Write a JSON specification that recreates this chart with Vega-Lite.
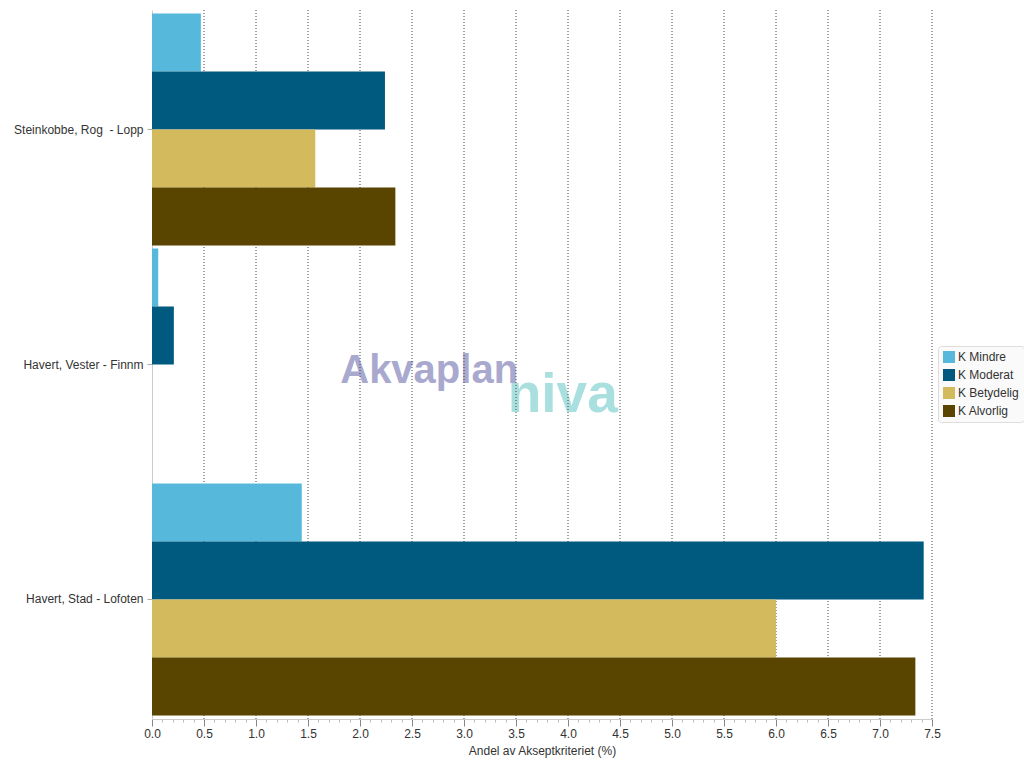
{
  "$schema": "https://vega.github.io/schema/vega-lite/v6.json",
  "width": 780,
  "height": 709,
  "autosize": {"type": "none"},
  "padding": {"left": 152, "top": 10, "right": 92, "bottom": 49},
  "background": "white",
  "config": {
    "view": {"stroke": null},
    "font": "Liberation Sans",
    "axis": {"labelFont": "Liberation Sans", "titleFont": "Liberation Sans"}
  },
  "layer": [
    {
      "data": {"values": [{"t": "Akvaplan"}]},
      "mark": {"type": "text", "align": "left", "baseline": "alphabetic", "dy": 18, "font": "Liberation Sans", "fontWeight": "bold", "fontSize": 40, "color": "#A9A8CF"},
      "encoding": {
        "x": {"datum": 1.81, "type": "quantitative", "scale": {"domain": [0, 7.5], "nice": false, "zero": true},
          "axis": {
            "title": "Andel av Akseptkriteriet (%)",
            "titleFontWeight": "normal", "titleFontSize": 12, "titleColor": "#333333", "titlePadding": 6,
            "grid": false,
            "tickCount": 100,
            "values": [0,0.1,0.2,0.3,0.4,0.5,0.6,0.7,0.8,0.9,1,1.1,1.2,1.3,1.4,1.5,1.6,1.7,1.8,1.9,2,2.1,2.2,2.3,2.4,2.5,2.6,2.7,2.8,2.9,3,3.1,3.2,3.3,3.4,3.5,3.6,3.7,3.8,3.9,4,4.1,4.2,4.3,4.4,4.5,4.6,4.7,4.8,4.9,5,5.1,5.2,5.3,5.4,5.5,5.6,5.7,5.8,5.9,6,6.1,6.2,6.3,6.4,6.5,6.6,6.7,6.8,6.9,7,7.1,7.2,7.3,7.4,7.5],
            "labelExpr": "abs(datum.value*2 - round(datum.value*2)) < 0.001 ? format(datum.value, '.1f') : ''",
            "labelOverlap": false,
            "labelFlush": false,
            "labelFontSize": 12, "labelColor": "#333333", "labelPadding": 2,
            "domainColor": "#cccccc",
            "tickSize": {"condition": {"test": "abs(datum.value*2 - round(datum.value*2)) < 0.001", "value": 7}, "value": 3},
            "tickColor": {"condition": {"test": "abs(datum.value*2 - round(datum.value*2)) < 0.001", "value": "#888888"}, "value": "#bbbbbb"}
          }
        },
        "y": {"datum": "Havert, Vester - Finnm", "type": "nominal",
          "scale": {"domain": ["Steinkobbe, Rog  - Lopp", "Havert, Vester - Finnm", "Havert, Stad - Lofoten"], "paddingInner": 0.0128, "paddingOuter": 0.015},
          "axis": {"title": null, "domainColor": "#cccccc", "tickColor": "#aaaaaa", "tickSize": 5, "labelFontSize": 12, "labelColor": "#333333", "labelPadding": 4, "grid": false, "labelExpr": "replace(datum.label, '  ', '\u00a0 ')"}
        },
        "text": {"field": "t", "type": "nominal"}
      }
    },
    {
      "data": {"values": [{"t": "niva"}]},
      "mark": {"type": "text", "align": "left", "baseline": "alphabetic", "dy": 47, "font": "Liberation Sans", "fontWeight": "bold", "fontSize": 55, "color": "#AADFDF"},
      "encoding": {
        "x": {"datum": 3.42, "type": "quantitative"},
        "y": {"datum": "Havert, Vester - Finnm", "type": "nominal"},
        "text": {"field": "t", "type": "nominal"}
      }
    },
    {
      "data": {"values": [{"g": 0.5}, {"g": 1.0}, {"g": 1.5}, {"g": 2.0}, {"g": 2.5}, {"g": 3.0}, {"g": 3.5}, {"g": 4.0}, {"g": 4.5}, {"g": 5.0}, {"g": 5.5}, {"g": 6.0}, {"g": 6.5}, {"g": 7.0}, {"g": 7.5}]},
      "mark": {"type": "rule", "strokeDash": [1, 2], "color": "#444", "strokeWidth": 1},
      "encoding": {
        "x": {"field": "g", "type": "quantitative"}
      }
    },
    {
      "data": {"values": [
        {"omrade": "Steinkobbe, Rog  - Lopp", "serie": "K Mindre", "verdi": 0.47},
        {"omrade": "Steinkobbe, Rog  - Lopp", "serie": "K Moderat", "verdi": 2.24},
        {"omrade": "Steinkobbe, Rog  - Lopp", "serie": "K Betydelig", "verdi": 1.57},
        {"omrade": "Steinkobbe, Rog  - Lopp", "serie": "K Alvorlig", "verdi": 2.34},
        {"omrade": "Havert, Vester - Finnm", "serie": "K Mindre", "verdi": 0.06},
        {"omrade": "Havert, Vester - Finnm", "serie": "K Moderat", "verdi": 0.21},
        {"omrade": "Havert, Vester - Finnm", "serie": "K Betydelig", "verdi": 0},
        {"omrade": "Havert, Vester - Finnm", "serie": "K Alvorlig", "verdi": 0},
        {"omrade": "Havert, Stad - Lofoten", "serie": "K Mindre", "verdi": 1.44},
        {"omrade": "Havert, Stad - Lofoten", "serie": "K Moderat", "verdi": 7.42},
        {"omrade": "Havert, Stad - Lofoten", "serie": "K Betydelig", "verdi": 6.0},
        {"omrade": "Havert, Stad - Lofoten", "serie": "K Alvorlig", "verdi": 7.34}
      ]},
      "mark": {"type": "bar"},
      "encoding": {
        "y": {"field": "omrade", "type": "nominal"},
        "yOffset": {
          "field": "serie", "type": "nominal",
          "sort": ["K Mindre", "K Moderat", "K Betydelig", "K Alvorlig"],
          "scale": {"paddingInner": 0, "paddingOuter": 0}
        },
        "x": {"field": "verdi", "type": "quantitative"},
        "color": {
          "field": "serie", "type": "nominal",
          "sort": ["K Mindre", "K Moderat", "K Betydelig", "K Alvorlig"],
          "scale": {"domain": ["K Mindre", "K Moderat", "K Betydelig", "K Alvorlig"], "range": ["#56B9DC", "#00597F", "#D3BA5C", "#5A4500"]},
          "legend": {
            "title": null, "orient": "none", "legendX": 786, "legendY": 336,
            "symbolType": "square", "symbolSize": 144, "symbolStrokeWidth": 0,
            "labelFontSize": 12, "labelColor": "#333333", "labelFont": "Liberation Sans", "labelOffset": 3,
            "rowPadding": 6, "padding": 5, "strokeColor": "#dddddd", "fillColor": "#fafafa", "cornerRadius": 3
          }
        }
      }
    }
  ]
}
